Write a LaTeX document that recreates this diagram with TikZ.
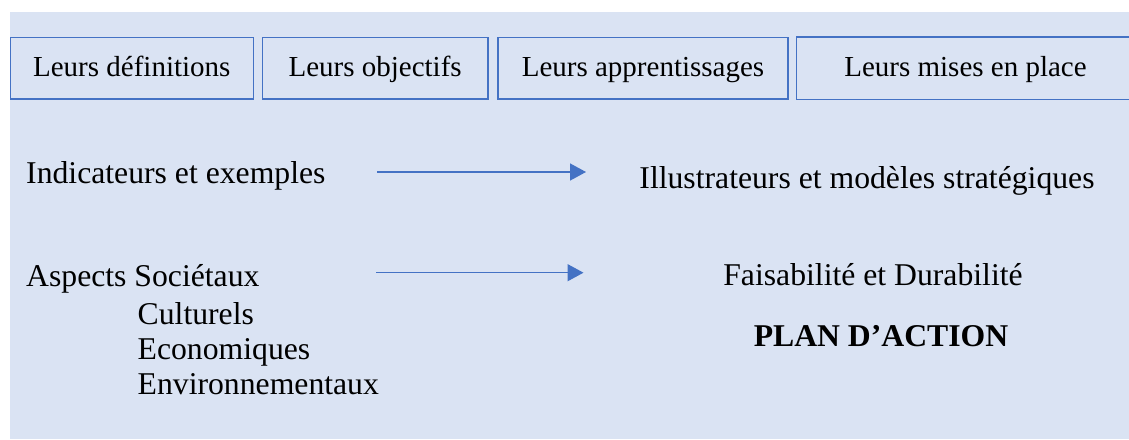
\documentclass[tikz,border=0pt]{standalone}
\usepackage{fontspec}
\setmainfont{Liberation Serif}
\usetikzlibrary{arrows.meta}
\definecolor{bgblue}{HTML}{DAE3F3}
\definecolor{edgeblue}{HTML}{4472C4}
\tikzset{
  topbox/.style={draw=edgeblue, line width=1.3pt, fill=bgblue, inner sep=0pt,
    minimum height=61.5pt, text height=15.5pt, text depth=0pt,
    font=\fontsize{29}{34}\selectfont},
  lefttext/.style={anchor=base west, inner sep=0pt, font=\fontsize{31.7}{38}\selectfont},
  midtext/.style={anchor=base, inner sep=0pt, font=\fontsize{31.7}{38}\selectfont},
  flow/.style={draw=edgeblue, line width=1.5pt, -{Triangle[length=16pt,width=17pt]}}
}
\begin{document}
\begin{tikzpicture}[x=1pt,y=-1pt]
\useasboundingbox (0,0) rectangle (1129,439);
\fill[white] (0,0) rectangle (1129,439);
\fill[bgblue] (9.5,12) rectangle (1129,439);
\begin{scope}
\clip (0,0) rectangle (1129,439);
\node[topbox, minimum width=243pt] (b1) at (131.8,68.25) {Leurs définitions};
\node[topbox, minimum width=225.7pt] (b2) at (375.15,68.25) {Leurs objectifs};
\node[topbox, minimum width=290pt] (b3) at (643,68.25) {Leurs apprentissages};
\node[topbox, draw=none, minimum width=337pt] (b4) at (965.5,68.25) {Leurs mises en place};
\draw[draw=edgeblue, line width=1.3pt] (b4.north west) rectangle ([xshift=20pt]b4.south east);
\end{scope}
\node[lefttext] (ind) at (26,183) {Indicateurs et exemples};
\node[midtext] (ill) at (867,188) {Illustrateurs et modèles stratégiques};
\node[lefttext] (asp) at (26,286.5) {Aspects Sociétaux};
\node[lefttext] (cul) at (137.5,324) {Culturels};
\node[lefttext] (eco) at (137.5,359) {Economiques};
\node[lefttext] (env) at (137.5,394) {Environnementaux};
\node[midtext] (fai) at (873,285.5) {Faisabilité et Durabilité};
\node[midtext, font=\fontsize{31.7}{38}\selectfont\bfseries] (plan) at (881,346) {PLAN D’ACTION};
\coordinate (a1s) at (377,172);
\coordinate (a1e) at (586,172);
\coordinate (a2s) at (376,272.7);
\coordinate (a2e) at (583.5,272.7);
\draw[flow] (a1s) -- (a1e);
\draw[flow] (a2s) -- (a2e);
\end{tikzpicture}
\end{document}
